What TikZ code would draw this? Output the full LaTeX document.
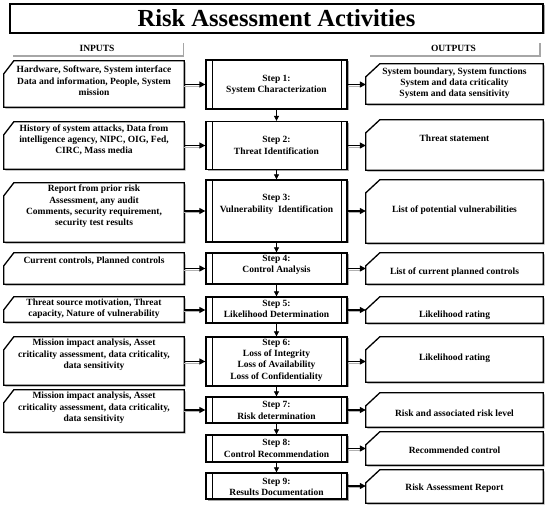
\documentclass[tikz,border=0pt]{standalone}
\usepackage{fontspec}
\setmainfont{Liberation Serif}
\usetikzlibrary{shadows,arrows.meta}
\newcommand\mychbox[3]{%
  \fill[black!35, transform canvas={xshift=1.5pt,yshift=-1.5pt}]
    ([xshift=#2]#1.north west) -- (#1.north east) -- (#1.south east) -- (#1.south west) -- ([yshift=-#3]#1.north west) -- cycle;
  \draw[line width=1.3pt, fill=white, line join=miter]
    ([xshift=#2]#1.north west) -- (#1.north east) -- (#1.south east) -- (#1.south west) -- ([yshift=-#3]#1.north west) -- cycle;}
\begin{document}
\begin{tikzpicture}[x=1pt,y=-1pt,
  shd/.style={drop shadow={shadow xshift=1.5pt,shadow yshift=-1.5pt,opacity=1,fill=black!35}},
  box/.style={draw, line width=1.3pt, fill=white, inner sep=0pt, shd},
  inbox/.style={rectangle, inner sep=0pt, minimum width=180pt},
  outbox/.style={rectangle, inner sep=0pt, minimum width=177pt},
  stepbox/.style={box, rectangle, minimum width=141pt,
     path picture={\draw[line width=1pt]
       ([xshift=6pt]path picture bounding box.north west) -- ([xshift=6pt]path picture bounding box.south west)
       ([xshift=-6pt]path picture bounding box.north east) -- ([xshift=-6pt]path picture bounding box.south east);}},
  txt/.style={font=\fontsize{9.5}{11.3}\selectfont\bfseries, align=center, inner sep=0pt},
  hdr/.style={fill=white, inner sep=0pt, minimum width=171pt, minimum height=14pt, shd,
     font=\fontsize{9.5}{11.3}\selectfont\bfseries},
  harr/.style={line width=1.3pt, -{Triangle[length=6pt,width=6pt]}},
  hsh/.style={line width=1.3pt, draw=black!30},
  varr/.style={line width=0.8pt, -{Triangle[length=5pt,width=5pt]}}
]
\useasboundingbox (0,0) rectangle (550,508);

% title
\node[draw, line width=1.8pt, fill=white, shd, minimum width=533pt, minimum height=29pt, inner sep=0pt,
  font=\fontsize{24.5}{28}\selectfont\bfseries] (title) at (276.5,18.5) {Risk Assessment Activities};

% headers
\node[hdr] (hin) at (97,48.5) {INPUTS};
\node[hdr] (hout) at (453.5,48.5) {OUTPUTS};

% input boxes
\node[inbox, minimum height=46pt] (in1) at (94,84) {};
\node[inbox, minimum height=47pt] (in2) at (94,145.5) {};
\node[inbox, minimum height=59pt] (in3) at (94,212.5) {};
\node[inbox, minimum height=31pt] (in4) at (94,268.5) {};
\node[inbox, minimum height=25pt] (in5) at (94,309.5) {};
\node[inbox, minimum height=48pt] (in6) at (94,361) {};
\node[inbox, minimum height=42pt] (in7) at (94,411) {};
\foreach \i in {1,...,7} {\mychbox{in\i}{10pt}{13pt}}

% step boxes
\node[stepbox, minimum height=49pt] (s1) at (276.5,84.5) {};
\node[stepbox, minimum height=48pt] (s2) at (276.5,145.5) {};
\node[stepbox, minimum height=62pt] (s3) at (276.5,211) {};
\node[stepbox, minimum height=31pt] (s4) at (276.5,268.5) {};
\node[stepbox, minimum height=26pt] (s5) at (276.5,310) {};
\node[stepbox, minimum height=49pt] (s6) at (276.5,361.5) {};
\node[stepbox, minimum height=26pt] (s7) at (276.5,410) {};
\node[stepbox, minimum height=27pt] (s8) at (276.5,448.5) {};
\node[stepbox, minimum height=26pt] (s9) at (276.5,486) {};

% output boxes
\node[outbox, minimum height=40pt] (o1) at (454.5,84) {};
\node[outbox, minimum height=50pt] (o2) at (454.5,145) {};
\node[outbox, minimum height=63pt] (o3) at (454.5,211.5) {};
\node[outbox, minimum height=31pt] (o4) at (454.5,268.5) {};
\node[outbox, minimum height=26pt] (o5) at (454.5,310) {};
\node[outbox, minimum height=45pt] (o6) at (454.5,359.5) {};
\node[outbox, minimum height=34pt] (o7) at (454.5,410) {};
\node[outbox, minimum height=33pt] (o8) at (454.5,448.5) {};
\node[outbox, minimum height=33pt] (o9) at (454.5,486.5) {};
\foreach \i in {1,...,9} {\mychbox{o\i}{14pt}{13pt}}

% input texts
\node[txt] (ti1) at (94,81) {Hardware, Software, System interface\\Data and information, People, System\\mission};
\node[txt] (ti2) at (94,140) {History of system attacks, Data from\\intelligence agency, NIPC, OIG, Fed,\\CIRC, Mass media};
\node[txt] (ti3) at (94,206.5) {Report from prior risk\\Assessment, any audit\\Comments, security requirement,\\security test results};
\node[txt] (ti4) at (94,261) {Current controls, Planned controls};
\node[txt] (ti5) at (94,309) {Threat source motivation, Threat\\capacity, Nature of vulnerability};
\node[txt] (ti6) at (94,355) {Mission impact analysis, Asset\\criticality assessment, data criticality,\\data sensitivity};
\node[txt] (ti7) at (94,408) {Mission impact analysis, Asset\\criticality assessment, data criticality,\\data sensitivity};

% step texts
\node[txt] (ts1) at (276.5,85) {Step 1:\\System Characterization};
\node[txt] (ts2) at (276.5,145.5) {Step 2:\\Threat Identification};
\node[txt] (ts3) at (276.5,204.5) {Step 3:\\Vulnerability\ \ Identification};
\node[txt] (ts4) at (276.5,265) {Step 4:\\Control Analysis};
\node[txt] (ts5) at (276.5,309) {Step 5:\\Likelihood Determination};
\node[txt] (ts6) at (276.5,360) {Step 6:\\Loss of Integrity\\Loss of Availability\\Loss of Confidentiality};
\node[txt] (ts7) at (276.5,410.5) {Step 7:\\Risk determination};
\node[txt] (ts8) at (276.5,448.5) {Step 8:\\Control Recommendation};
\node[txt] (ts9) at (276.5,487) {Step 9:\\Results Documentation};

% output texts
\node[txt] (to1) at (454.5,83) {System boundary, System functions\\System and data criticality\\System and data sensitivity};
\node[txt] (to2) at (454.5,138) {Threat statement};
\node[txt] (to3) at (454.5,210) {List of potential vulnerabilities};
\node[txt] (to4) at (454.5,272) {List of current planned controls};
\node[txt] (to5) at (454.5,315) {Likelihood rating};
\node[txt] (to6) at (454.5,358) {Likelihood rating};
\node[txt] (to7) at (454.5,413) {Risk and associated risk level};
\node[txt] (to8) at (454.5,450) {Recommended control};
\node[txt] (to9) at (454.5,488) {Risk Assessment Report};

% input arrows
\foreach \i in {1,...,7} {
  \draw[hsh] ([yshift=-1.8pt]in\i.east |- s\i.west) -- ([xshift=-5pt,yshift=-1.8pt]s\i.west);
  \draw[harr] (in\i.east |- s\i.west) -- (s\i.west);
}
% output arrows
\foreach \i in {1,...,9} {
  \draw[hsh] ([yshift=-1.8pt]s\i.east) -- ([xshift=-5pt,yshift=-1.8pt]o\i.west |- s\i.east);
  \draw[harr] (s\i.east) -- (o\i.west |- s\i.east);
}
% vertical arrows
\foreach \i/\j in {1/2,2/3,3/4,4/5,5/6,6/7,7/8,8/9} {
  \draw[varr] (s\i.south) -- (s\j.north);
}
\end{tikzpicture}
\end{document}
